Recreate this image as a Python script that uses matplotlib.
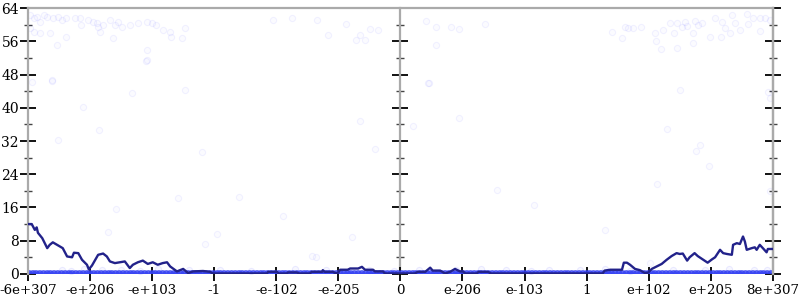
import numpy as np
import matplotlib.pyplot as plt

# x axis is ordinal: positions 0..12 map to the tick labels below
tick_labels = ['-6e+307', '-e+206', '-e+103', '-1', '-e-102', '-e-205', '0',
               'e-206', 'e-103', '1', 'e+102', 'e+205', '8e+307']

# averaged error line
line_x = [0.00, 0.06, 0.11, 0.14, 0.16, 0.23, 0.31, 0.35, 0.40, 0.47, 0.52, 0.56,
          0.63, 0.71, 0.74, 0.81, 0.87, 0.95, 0.98, 1.03, 1.13, 1.21, 1.27, 1.32,
          1.40, 1.48, 1.56, 1.64, 1.69, 1.77, 1.85, 1.93, 2.01, 2.09, 2.17, 2.24,
          2.29, 2.40, 2.50, 2.58, 2.66, 2.82, 2.93, 2.98, 3.85, 3.87, 4.01, 4.04,
          4.17, 4.19, 4.33, 4.37, 4.54, 4.57, 4.74, 4.75, 4.78, 4.91, 4.95, 4.99,
          5.03, 5.15, 5.19, 5.32, 5.38, 5.43, 5.56, 5.59, 5.72, 5.75, 6.23, 6.28,
          6.40, 6.48, 6.52, 6.64, 6.72, 6.80, 6.88, 6.96, 7.01, 7.04, 7.23, 7.26,
          7.41, 7.46, 9.26, 9.29, 9.38, 9.57, 9.60, 9.65, 9.70, 9.78, 9.86, 9.94,
          9.99, 10.05, 10.13, 10.21, 10.29, 10.37, 10.45, 10.50, 10.55, 10.62, 10.66,
          10.74, 10.79, 10.87, 10.95, 11.02, 11.07, 11.15, 11.20, 11.26, 11.34, 11.36,
          11.42, 11.47, 11.52, 11.55, 11.58, 11.66, 11.71, 11.74, 11.79, 11.84, 11.90,
          11.92, 12.00]
line_y = [12.0, 12.0, 10.6, 11.2, 9.9, 8.6, 6.2, 7.0, 7.6, 7.0, 6.6, 6.2,
          4.2, 4.0, 5.1, 5.0, 3.4, 2.2, 1.1, 2.0, 4.6, 4.9, 4.2, 3.0,
          2.6, 2.8, 3.0, 1.4, 2.2, 2.8, 3.2, 2.4, 2.8, 2.2, 2.6, 2.8,
          1.8, 0.6, 1.2, 0.2, 0.6, 0.7, 0.5, 0.1, 0.1, 0.5, 0.5, 0.1,
          0.1, 0.35, 0.35, 0.1, 0.1, 0.5, 0.5, 0.9, 0.5, 0.5, 0.2, 0.2,
          1.0, 1.0, 1.3, 1.3, 1.7, 1.0, 1.0, 0.6, 0.6, 0.1, 0.1, 0.5,
          0.5, 1.5, 0.8, 0.8, 0.1, 0.5, 1.2, 0.6, 0.6, 0.1, 0.1, 0.5,
          0.5, 0.1, 0.1, 0.8, 1.0, 1.0, 2.7, 2.7, 2.2, 1.2, 0.9, 0.2,
          0.3, 1.2, 1.8, 2.4, 3.4, 4.3, 5.0, 4.8, 4.9, 3.2, 4.0,
          5.0, 4.3, 3.5, 2.7, 3.5, 4.0, 5.8, 5.0, 4.8, 4.6, 7.0,
          7.4, 7.2, 9.0, 7.8, 5.8, 6.2, 6.4, 5.8, 7.0, 6.2, 5.2,
          6.0, 6.0]

# individual sample points (faint)
pts_x = [0.03, 0.09, 0.14, 0.19, 0.25, 0.30, 0.41, 0.49, 0.54, 0.62, 0.76, 0.84,
         0.86, 0.97, 1.05, 1.11, 1.13, 1.16, 1.21, 1.32, 1.40, 1.45, 1.51, 1.64,
         1.78, 1.91, 1.99, 2.07, 2.18, 2.29, 2.31, 2.53, 2.48, 0.62, 0.46, 0.03,
         0.09, 0.19, 0.35, 1.37, 1.91, 1.91, 0.06, 0.38, 1.67, 2.53,
         3.95, 4.25, 4.65, 5.13, 4.84, 5.35, 5.29, 5.43, 5.51, 5.64,
         6.41, 6.57, 6.81, 6.94, 7.36, 6.57, 9.41, 9.57, 9.62, 9.67, 9.75, 9.87,
         10.10, 10.12, 10.20, 10.23, 10.34, 10.45, 10.41, 10.53, 10.58, 10.62, 10.71,
         10.74, 10.79, 10.86, 10.99, 11.07, 11.18, 11.23, 11.34, 11.39, 11.47, 11.58,
         11.60, 11.68, 11.79, 11.87, 11.79, 10.45, 10.71, 11.16, 11.31, 11.95,
         10.50, 11.92,
         1.90, 0.38, 0.89, 1.14, 0.48, 2.80, 5.35, 5.59, 2.41, 3.40, 1.41, 4.11,
         6.45, 6.20, 6.95, 7.55, 8.15, 10.30, 10.82, 10.76, 10.97, 10.14,
         11.96, 11.95, 1.29, 3.04, 2.85, 4.57, 4.64, 5.22, 9.29, 10.02, 6.46]
pts_y = [62.3, 61.5, 61.9, 60.7, 62.3, 61.9, 61.5, 61.9, 61.1, 61.5, 61.5, 61.5,
         59.9, 61.1, 60.7, 60.3, 59.5, 58.3, 59.9, 61.1, 59.9, 60.7, 59.5, 59.9,
         60.3, 60.7, 60.3, 59.9, 58.7, 58.3, 57.1, 59.1, 56.7, 57.1, 55.1, 59.1,
         58.3, 57.9, 57.9, 56.7, 53.9, 51.5, 46.3, 46.7, 43.5, 44.3,
         61.1, 61.5, 61.1, 60.2, 57.5, 57.5, 56.3, 56.3, 59.0, 58.7,
         60.9, 59.4, 59.5, 58.9, 60.2, 55.0, 58.3, 56.9, 59.5, 59.1, 59.1, 59.5,
         57.9, 56.1, 54.2, 58.7, 60.3, 60.5, 57.9, 59.5, 60.7, 59.7, 57.9,
         61.0, 59.9, 60.3, 57.1, 61.5, 60.7, 59.1, 62.3, 60.5, 58.7, 62.6,
         60.2, 61.5, 61.5, 61.5, 58.6, 54.3, 55.7, 57.0, 57.9, 61.1,
         44.3, 43.9,
         51.3, 46.4, 40.3, 34.6, 32.2, 29.4, 36.7, 30.0, 18.2, 18.6, 15.6, 14.0,
         45.9, 35.6, 37.6, 20.2, 16.5, 34.9, 31.0, 29.7, 26.1, 21.7,
         42.3, 20.0, 10.2, 9.6, 7.2, 4.2, 4.0, 9.0, 10.6, 2.7, 46.0]

# points with (almost) no error, stacked on the bottom
zero_x = [0.02, 0.08, 0.13, 0.19, 0.25, 0.31, 0.36, 0.42, 0.48, 0.54, 0.6, 0.66,
          0.71, 0.77, 0.83, 0.89, 0.95, 1.0, 1.06, 1.12, 1.18, 1.24, 1.3, 1.35,
          1.41, 1.47, 1.53, 1.59, 1.65, 1.7, 1.76, 1.82, 1.88, 1.94, 2.0, 2.05,
          2.11, 2.17, 2.23, 2.29, 2.35, 2.4, 2.46, 2.52, 2.58, 2.64, 2.7, 2.75,
          2.81, 2.87, 2.93, 2.99, 3.05, 3.1, 3.16, 3.22, 3.28, 3.34, 3.4, 3.45,
          3.51, 3.57, 3.63, 3.69, 3.75, 3.8, 3.86, 3.92, 3.98, 4.04, 4.1, 4.15,
          4.21, 4.27, 4.33, 4.39, 4.45, 4.5, 4.56, 4.62, 4.68, 4.74, 4.8, 4.85,
          4.91, 4.97, 5.03, 5.09, 5.15, 5.2, 5.26, 5.32, 5.38, 5.44, 5.5, 5.55,
          5.61, 5.67, 5.73, 5.79, 5.85, 5.9, 5.96, 6.02, 6.08, 6.14, 6.2, 6.25,
          6.31, 6.37, 6.43, 6.49, 6.55, 6.6, 6.66, 6.72, 6.78, 6.84, 6.9, 6.95,
          7.01, 7.07, 7.13, 7.19, 7.25, 7.3, 7.36, 7.42, 7.48, 7.54, 7.6, 7.65,
          7.71, 7.77, 7.83, 7.89, 7.95, 8.0, 8.06, 8.12, 8.18, 8.24, 8.3, 8.35,
          8.41, 8.47, 8.53, 8.59, 8.65, 8.7, 8.76, 8.82, 8.88, 8.94, 9.0, 9.05,
          9.11, 9.17, 9.23, 9.29, 9.35, 9.4, 9.46, 9.52, 9.58, 9.64, 9.7, 9.75,
          9.81, 9.87, 9.93, 9.99, 10.05, 10.1, 10.16, 10.22, 10.28, 10.34, 10.4,
          10.45, 10.51, 10.57, 10.63, 10.69, 10.75, 10.8, 10.86, 10.92, 10.98,
          11.04, 11.1, 11.15, 11.21, 11.27, 11.33, 11.39, 11.45, 11.5, 11.56,
          11.62, 11.68, 11.74, 11.8, 11.85, 11.91, 11.97]
low_x = [0.55, 0.7, 0.9, 1.2, 1.5, 1.8, 2.1, 2.6, 3.1, 3.6, 4.3, 4.8, 5.5, 5.9,
         6.3, 6.9, 7.3, 7.7, 8.1, 8.4, 8.9, 9.3, 9.7, 10.4, 10.9, 11.3, 11.7, 11.9]
low_y = [1.0, 0.8, 1.1, 0.9, 1.0, 0.8, 1.1, 0.9, 1.0, 0.8, 1.2, 0.9, 1.0, 0.8,
         1.0, 0.9, 1.1, 1.0, 0.8, 1.0, 0.9, 1.1, 0.8, 1.0, 0.9, 1.1, 1.0, 0.9]

plt.rcParams['font.family'] = ['DejaVu Serif']
fig = plt.figure(figsize=(8, 3), dpi=100)
ax = fig.add_axes([0.035, 0.087, 0.931, 0.886])

ax.scatter(pts_x, pts_y, s=20, facecolor=(0, 0, 1, 0.015),
           edgecolor=(0, 0, 1, 0.05), linewidth=0.8, zorder=2)
ax.scatter(low_x, low_y, s=20, facecolor=(0, 0, 1, 0.03),
           edgecolor=(0, 0, 1, 0.07), linewidth=0.8, zorder=2)
ax.scatter(zero_x, np.zeros(len(zero_x)), s=30, facecolor=(0.2, 0.25, 0.95, 0.8),
           edgecolor='none', zorder=2)
ax.plot(line_x, line_y, color='#22228a', lw=1.7, zorder=3)

ax.set_xlim(0, 12)
ax.set_ylim(0, 64)
ax.set_xticks(range(13))
ax.set_xticklabels(tick_labels)
ax.set_yticks(range(0, 65, 8))
ax.set_yticks(range(4, 64, 8), minor=True)

for s in ['left', 'right', 'top']:
    ax.spines[s].set_color('#aaaaaa')
    ax.spines[s].set_linewidth(1.6)
ax.spines['bottom'].set_visible(False)
ax.tick_params(axis='y', which='major', direction='inout', length=11, width=1.3,
               color='black', labelsize=10, pad=1)
ax.tick_params(axis='y', which='minor', direction='inout', length=6, width=1,
               color='#444444')
ax.tick_params(axis='x', direction='inout', length=10, width=1.3, color='black',
               labelsize=9.6, pad=2)

for loc in [0.5, 1.0]:
    sec = ax.secondary_yaxis(loc)
    sec.set_yticks(range(0, 65, 8))
    sec.set_yticks(range(4, 64, 8), minor=True)
    sec.spines['right'].set_color('#aaaaaa')
    sec.spines['right'].set_linewidth(1.6)
    sec.tick_params(axis='y', which='major', direction='inout', length=11, width=1.3,
                    color='black', labelright=False)
    sec.tick_params(axis='y', which='minor', direction='inout', length=6, width=1,
                    color='#444444', labelright=False)

fig.savefig('out.png')
